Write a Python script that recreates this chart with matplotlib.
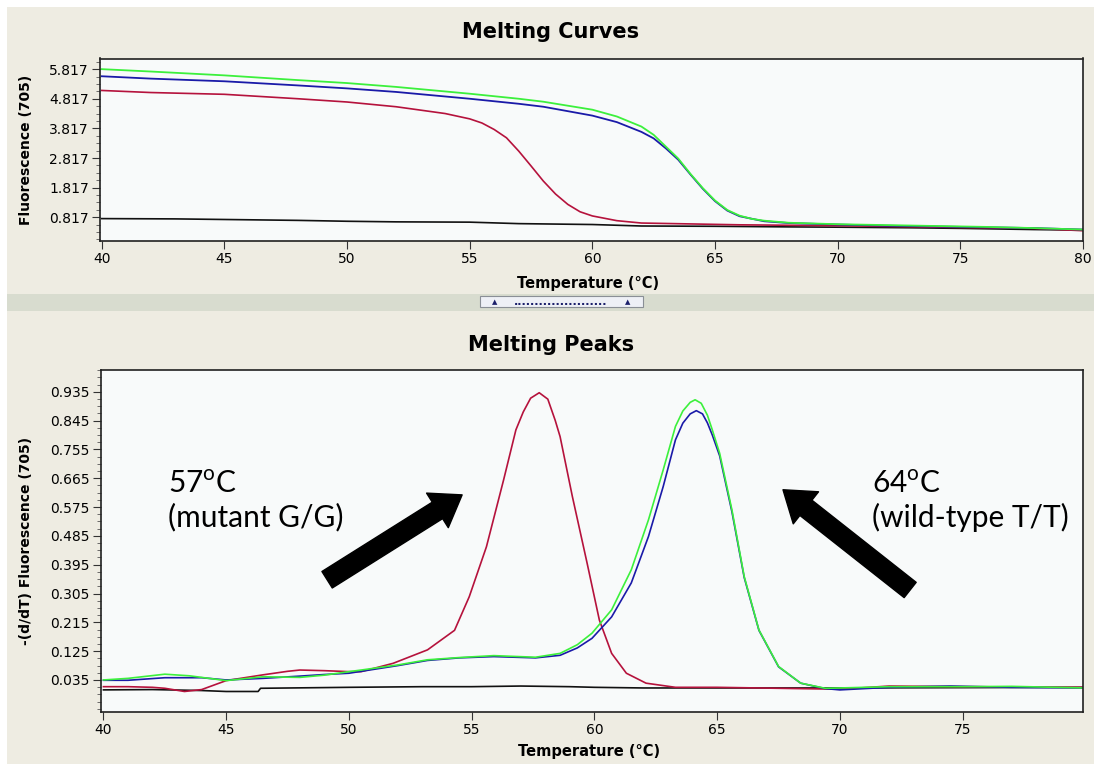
import matplotlib
matplotlib.use("Agg")
import matplotlib.pyplot as plt
from matplotlib.patches import Rectangle
from matplotlib.ticker import FixedLocator, AutoMinorLocator

plt.rcParams['mathtext.fontset'] = 'custom'
plt.rcParams['mathtext.rm'] = 'Lato'

# ---- melting curves (fluorescence vs temperature) ----
curve_green_t = [40, 42, 45, 48, 50, 52, 55, 57, 58, 60, 61, 62, 62.5, 63, 63.5, 64, 64.5, 65,
                 65.5, 66, 66.5, 67, 68, 70, 72, 74, 76, 78, 80]
curve_green_f = [5.82, 5.74, 5.61, 5.45, 5.35, 5.22, 4.99, 4.82, 4.72, 4.45, 4.22, 3.88, 3.60, 3.20,
                 2.80, 2.28, 1.80, 1.38, 1.06, 0.87, 0.76, 0.70, 0.63, 0.58, 0.55, 0.52, 0.49, 0.45, 0.40]
curve_blue_t = [40, 42, 45, 48, 50, 52, 55, 57, 58, 60, 61, 62, 62.5, 63, 63.5, 64, 64.5, 65,
                65.5, 66, 67, 68, 70, 72, 75, 78, 80]
curve_blue_f = [5.58, 5.50, 5.41, 5.27, 5.17, 5.05, 4.82, 4.65, 4.55, 4.25, 4.03, 3.70, 3.48, 3.14,
                2.76, 2.26, 1.78, 1.36, 1.04, 0.85, 0.68, 0.62, 0.57, 0.53, 0.49, 0.45, 0.40]
curve_red_t = [40, 42, 44, 45, 48, 50, 52, 54, 55, 55.5, 56, 56.5, 57, 57.5, 58, 58.5, 59, 59.5,
               60, 61, 62, 64, 66, 70, 75, 78, 80]
curve_red_f = [5.10, 5.03, 4.99, 4.97, 4.82, 4.71, 4.55, 4.32, 4.14, 4.00, 3.78, 3.50, 3.05, 2.55,
               2.04, 1.60, 1.25, 1.00, 0.86, 0.70, 0.62, 0.59, 0.56, 0.53, 0.47, 0.44, 0.36]
curve_black_t = [40, 43, 45, 48, 50, 52, 55, 57, 60, 62, 65, 68, 70, 73, 75, 78, 80]
curve_black_f = [0.77, 0.76, 0.74, 0.71, 0.68, 0.66, 0.65, 0.60, 0.57, 0.52, 0.51, 0.49, 0.48,
                 0.46, 0.44, 0.40, 0.38]

# ---- melting peaks (-dF/dT vs temperature) ----
peak_red_t = [40, 41, 42, 42.5, 43.3, 44, 45, 46, 46.5, 47.5, 48, 49, 50, 50.5, 51.8, 53.2, 54.3,
              54.9, 55.6, 56.3, 56.8, 57.1, 57.4, 57.75, 58.1, 58.4, 58.6, 59.1, 59.7, 60.2, 60.7,
              61.3, 62.1, 63.3, 65, 70, 72, 75, 80]
peak_red_v = [0.014, 0.014, 0.012, 0.009, -0.001, 0.005, 0.033, 0.045, 0.051, 0.062, 0.066, 0.064,
              0.061, 0.061, 0.087, 0.129, 0.190, 0.295, 0.451, 0.660, 0.816, 0.872, 0.915, 0.932,
              0.912, 0.846, 0.795, 0.608, 0.400, 0.222, 0.118, 0.056, 0.025, 0.012, 0.012, 0.006,
              0.016, 0.014, 0.012]
peak_green_t = [40, 41, 42.5, 43.5, 45, 46.5, 48, 49, 50, 50.5, 52, 53.2, 54.5, 55.9, 57.6, 58.6,
                59.3, 59.9, 60.7, 61.5, 62.2, 62.8, 63.3, 63.6, 63.9, 64.1, 64.35, 64.6, 64.8, 65.1,
                65.6, 66.1, 66.7, 67.5, 68.4, 69.4, 70, 72, 75, 77, 80]
peak_green_v = [0.035, 0.040, 0.053, 0.048, 0.033, 0.045, 0.043, 0.050, 0.061, 0.066, 0.082, 0.098,
                0.105, 0.111, 0.106, 0.118, 0.145, 0.181, 0.254, 0.379, 0.535, 0.691, 0.827, 0.875,
                0.902, 0.910, 0.899, 0.862, 0.816, 0.743, 0.566, 0.358, 0.191, 0.077, 0.025, 0.009,
                0.010, 0.014, 0.014, 0.015, 0.010]
peak_blue_t = [40, 41, 42.5, 44, 45, 46.5, 48, 49, 50, 50.5, 52, 53.2, 54.5, 55.9, 57.6, 58.6, 59.3,
               59.9, 60.7, 61.5, 62.2, 62.8, 63.3, 63.6, 63.9, 64.15, 64.4, 64.6, 64.8, 65.1, 65.6,
               66.1, 66.7, 67.5, 68.4, 69.4, 70, 72, 74.5, 77, 80]
peak_blue_v = [0.034, 0.034, 0.042, 0.042, 0.035, 0.040, 0.047, 0.052, 0.056, 0.062, 0.080, 0.096,
               0.104, 0.108, 0.104, 0.112, 0.135, 0.165, 0.232, 0.338, 0.483, 0.639, 0.785, 0.837,
               0.866, 0.876, 0.866, 0.838, 0.800, 0.735, 0.560, 0.355, 0.190, 0.076, 0.025, 0.008,
               0.004, 0.012, 0.016, 0.012, 0.010]
peak_black_t = [40, 42, 44, 45, 46.3, 46.4, 50, 53, 55, 57, 59, 60, 62, 65, 70, 75, 80]
peak_black_v = [0.004, 0.005, 0.002, -0.001, -0.001, 0.009, 0.012, 0.014, 0.014, 0.016, 0.014,
                0.012, 0.010, 0.010, 0.010, 0.011, 0.012]

curve_ticks = [0.817, 1.817, 2.817, 3.817, 4.817, 5.817]
peak_ticks = [0.035, 0.125, 0.215, 0.305, 0.395, 0.485, 0.575, 0.665, 0.755, 0.845, 0.935]

GREEN = '#3cf03c'
BLUE = '#1a1aa8'
RED = '#b5123c'
BLACK = '#111111'
BEIGE = '#eeece2'

W, H = 1094, 764
fig = plt.figure(figsize=(W / 100, H / 100), dpi=100)
fig.patch.set_facecolor('white')
# beige panel + splitter band with its little grip button
fig.patches.append(Rectangle((7 / W, 0), 1, 1 - 7 / H, transform=fig.transFigure,
                             facecolor=BEIGE, edgecolor='none', zorder=-10))
fig.patches.append(Rectangle((7 / W, 1 - 311 / H), 1, 17 / H, transform=fig.transFigure,
                             facecolor='#d8dccf', edgecolor='none', zorder=-9))
fig.patches.append(Rectangle((480 / W, 1 - 307 / H), 163 / W, 11 / H, transform=fig.transFigure,
                             facecolor='#eef0f6', edgecolor='#8a8f96', linewidth=0.8, zorder=-8))
fig.text(495 / W, 1 - 302 / H, '\u25B2', color='#1b1f6b', fontsize=5, ha='center', va='center')
fig.text(628 / W, 1 - 302 / H, '\u25B2', color='#1b1f6b', fontsize=5, ha='center', va='center')
fig.text(561 / W, 1 - 302 / H, '.' * 22, color='#1b1f6b', fontsize=8, ha='center', va='center',
         fontweight='bold')


def style_axes(ax, yticks):
    ax.set_facecolor('#f8fafa')
    for s in ax.spines.values():
        s.set_linewidth(1.2)
        s.set_color('#202020')
    ax.yaxis.set_major_locator(FixedLocator(yticks))
    ax.yaxis.set_minor_locator(AutoMinorLocator(4))
    ax.tick_params(axis='both', which='major', direction='out', length=6, width=0.8,
                   labelsize=10, pad=2, colors='#333333', labelcolor='black')
    ax.tick_params(axis='y', which='minor', direction='out', length=3, width=0.6, colors='#555555')
    ax.tick_params(top=False, right=False)
    for lab in ax.get_xticklabels() + ax.get_yticklabels():
        lab.set_family('DejaVu Sans')


# ---- top panel ----
ax1 = fig.add_axes([100 / W, 1 - 240.5 / H, 983 / W, 182 / H])
ax1.plot(curve_black_t, curve_black_f, color=BLACK, lw=1.2)
ax1.plot(curve_red_t, curve_red_f, color=RED, lw=1.2)
ax1.plot(curve_blue_t, curve_blue_f, color=BLUE, lw=1.3)
ax1.plot(curve_green_t, curve_green_f, color=GREEN, lw=1.3)
ax1.set_xlim(39.93, 80)
ax1.set_ylim(0.03, 6.18)
ax1.set_xticks(range(40, 81, 5))
style_axes(ax1, curve_ticks)
ax1.set_yticklabels([f'{v:.3f}' for v in curve_ticks])
ax1.set_xlabel('Temperature (\u00B0C)', fontsize=10.5, fontweight='bold', family='DejaVu Sans')
ax1.xaxis.set_label_coords(0.497, -0.195)
ax1.set_ylabel('Fluorescence (705)', fontsize=10, fontweight='bold', family='DejaVu Sans')
ax1.yaxis.set_label_coords(-0.068, 0.5)
fig.text(551 / W, 1 - 32 / H, 'Melting Curves', ha='center', va='center', fontsize=15,
         fontweight='bold', family='DejaVu Sans')

# ---- bottom panel ----
ax2 = fig.add_axes([101 / W, 1 - 712.3 / H, 982 / W, 342.3 / H])
ax2.plot(peak_black_t, peak_black_v, color=BLACK, lw=1.2)
ax2.plot(peak_red_t, peak_red_v, color=RED, lw=1.2)
ax2.plot(peak_blue_t, peak_blue_v, color=BLUE, lw=1.2)
ax2.plot(peak_green_t, peak_green_v, color=GREEN, lw=1.2)
ax2.set_xlim(39.9, 79.9)
ax2.set_ylim(-0.066, 1.003)
ax2.set_xticks(range(40, 80, 5))
style_axes(ax2, peak_ticks)
ax2.set_yticklabels([f'{v:.3f}' for v in peak_ticks])
ax2.set_xlabel('Temperature (\u00B0C)', fontsize=10.5, fontweight='bold', family='DejaVu Sans')
ax2.xaxis.set_label_coords(0.497, -0.094)
ax2.set_ylabel('-(d/dT) Fluorescence (705)', fontsize=10, fontweight='bold', family='DejaVu Sans')
ax2.yaxis.set_label_coords(-0.069, 0.5)
fig.text(551 / W, 1 - 345 / H, 'Melting Peaks', ha='center', va='center', fontsize=15,
         fontweight='bold', family='DejaVu Sans')

# annotations
txt = dict(fontsize=21.5, family='Lato', color='black', va='baseline', ha='left')
ax2.text(42.64, 0.619, r'57$^{\mathrm{o}}$C', **txt)
ax2.text(42.64, 0.513, '(mutant G/G)', **txt)
ax2.text(71.31, 0.619, r'64$^{\mathrm{o}}$C', **txt)
ax2.text(71.31, 0.513, '(wild-type T/T)', **txt)

arrow = dict(arrowstyle='simple,head_length=1.5,head_width=2.1,tail_width=1.0',
             color='black', shrinkA=0, shrinkB=0, mutation_scale=14)
ax2.annotate('', xy=(54.61, 0.613), xytext=(49.11, 0.348), arrowprops=arrow)
ax2.annotate('', xy=(67.68, 0.629), xytext=(72.86, 0.316), arrowprops=arrow)

fig.savefig('out.png', dpi=100, facecolor=fig.get_facecolor())
